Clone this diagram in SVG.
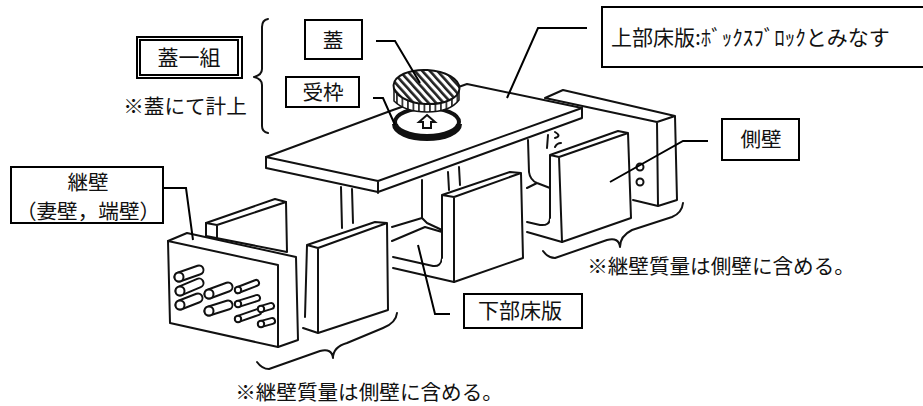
<svg xmlns="http://www.w3.org/2000/svg" width="923" height="406" viewBox="0 0 923 406">
<style>
text{font-family:"Noto Sans CJK JP","Noto Sans CJK SC",sans-serif;font-size:20.6px;fill:#111;text-anchor:middle}
.big{font-size:21px}
.box{fill:#fff;stroke:#000;stroke-width:2}
.s{fill:#fff;stroke:#111;stroke-width:2;stroke-linejoin:round;stroke-linecap:round}
.f{fill:#fff;stroke:none}
.n{fill:none;stroke:#111;stroke-width:2;stroke-linejoin:round;stroke-linecap:round}
.l{fill:none;stroke:#000;stroke-width:2}
.co{stroke:#111;stroke-linecap:round;fill:none}
.ci{stroke:#fff;stroke-linecap:round;fill:none}
.c{fill:#fff;stroke:#111;stroke-width:2}
</style>
<defs>
<pattern id="h" width="5.600" height="6" patternUnits="userSpaceOnUse" patternTransform="rotate(-45)"><rect width="5.600" height="6" fill="#fff"/><rect width="2.600" height="6" fill="#222"/></pattern>
<pattern id="t" width="5.500" height="20" patternUnits="userSpaceOnUse"><rect width="5.500" height="20" fill="#fff"/><rect width="1.800" height="20" fill="#333"/></pattern>
</defs>
<rect width="923" height="406" fill="#fff"/>
<g id="upper-rear-wall">
<path class="f" d="M545 98L563 90L675 116L677 200L658 206L633 200V150Z"/>
<path class="n" d="M545 98L563 90L675 116L677 200L658 206L633 200M545 98L657 122L675 116M657 122L658 206"/>
<circle cx="640" cy="167" r="3.500" class="c"/><circle cx="640" cy="182" r="3.500" class="c"/>
</g>
<g id="body">
<path class="n" d="M341 187L342 228M352 189L353 223M422 180L422 218M448 172L449 190M459 167L460 185M528 140L529 172Q530 180 537 183L550 188M527 188L537 183M548 135L547 148M555 132Q562 136 555 138M555 147Q557 143 561 143"/>
<path class="n" d="M392 227L422 218L427 223L442 230M392 241L425 227L442 232M393 257L433 266Q441 267 442 258M393 268L454 282M527 222L540 225Q550 226 550 218M527 232L562 242"/>
</g>
<g id="upper-slab">
<path class="s" d="M266 157L393 110L467 84L582 108V118L378 192L266 168Z"/>
<path class="n" d="M266 157L378 181L582 108M378 181V193"/>
</g>
<g id="lid-frame">
<ellipse cx="427" cy="122" rx="32" ry="14" fill="#fff" stroke="#111" stroke-width="4"/>
<path d="M395 124A32 14 0 0 0 459 124" fill="none" stroke="#111" stroke-width="6"/>
<path d="M427 115L435 122H431V128H423V122H419Z" fill="#fff" stroke="#111" stroke-width="2"/>
</g>
<g id="lid">
<path d="M394 88V101Q405 112 427 112Q450 112 459 100V88Z" fill="url(#t)" stroke="#111" stroke-width="1.500"/>
<ellipse cx="426.500" cy="87" rx="33" ry="17" transform="rotate(3 426.500 87)" fill="url(#h)" stroke="#111" stroke-width="2"/>
</g>
<g id="rear-end-wall">
<path class="s" d="M206 223L275 199L286 202L287 252L206 236Z"/>
<path class="n" d="M206 223L217 225L286 202M217 225V238"/>
</g>
<g id="side-wall-left">
<path class="f" d="M307 245L375 222L387 223L388 310L318 333L303 328L305 317Z"/>
<path class="n" d="M305 317L307 245L375 222L387 223L388 310L318 333L303 328M307 245L318 248L387 223M318 248V333"/>
</g>
<g id="side-wall-middle">
<path class="f" d="M442 195L510 172L521 173L523 258L454 282L442 262Z"/>
<path class="n" d="M442 258V195L510 172L521 173L523 258L454 282M442 195L454 197L521 173M454 197V282"/>
</g>
<g id="side-wall-right">
<path class="f" d="M550 155L618 131L628 133L631 218L562 242L550 225Z"/>
<path class="n" d="M550 218V155L618 131L628 133L631 218L562 242M550 155L559 157L628 133M559 157L562 242"/>
</g>
<g id="end-wall">
<path class="s" d="M168 241L187 233L296 257L298 340L278 347L170 323Z"/>
<path class="n" d="M168 241L278 265V347"/>
<path class="co" stroke-width="11" d="M179 277L199 270M180 291L199 283M180 305L198 298M209 294L228 287M209 311L228 305"/>
<path class="ci" stroke-width="7" d="M179 277L199 270M180 291L199 283M180 305L198 298M209 294L228 287M209 311L228 305"/>
<path class="co" stroke-width="8" d="M238 290L256 283M238 304L257 298M238 319L258 312M261 309L271 306M261 324L272 321"/>
<path class="ci" stroke-width="4" d="M238 290L256 283M238 304L257 298M238 319L258 312M261 309L271 306M261 324L272 321"/>
<circle cx="179" cy="277" r="4.500" class="c"/><circle cx="180" cy="291" r="4.500" class="c"/><circle cx="180" cy="305" r="4.500" class="c"/><circle cx="209" cy="294" r="4.500" class="c"/><circle cx="209" cy="311" r="4.500" class="c"/>
<circle cx="238" cy="290" r="3.200" class="c"/><circle cx="238" cy="304" r="3.200" class="c"/><circle cx="238" cy="319" r="3.200" class="c"/><circle cx="261" cy="309" r="3.200" class="c"/><circle cx="261" cy="324" r="3.200" class="c"/>
</g>
<g id="connectors">
<path class="l" d="M163 188H186L193 240"/>
<path class="l" d="M376 41H395L420 83"/>
<path class="l" d="M373 98H383L395 125"/>
<path class="l" d="M507 98L538 28H587"/>
<path class="l" d="M610 182L683 141H708"/>
<path class="l" d="M418 245L435 314H450"/>
</g>
<g id="braces">
<path class="n" d="M268 19Q262 20 262 27V69Q262 75 254 77Q262 79 262 85V126Q262 132 268 133"/>
<path class="n" d="M257 362Q262 369 269 369L320 351Q332 348 333 358Q333 347 347 343L383 328Q396 323 397 313"/>
<path class="n" d="M543 251Q548 258 555 258L607 240Q619 237 620 247Q620 236 632 230L672 217Q682 213 683 203"/>
</g>
<g id="cover-set"><rect class="box" x="137" y="37" width="105" height="41"/><rect class="box" x="140" y="40" width="98" height="35"/><text class="big" x="189" y="65">蓋一組</text></g>
<text x="185" y="114">※蓋にて計上</text>
<g id="cover-label"><rect class="box" x="305" y="20" width="57" height="39"/><text x="333" y="48">蓋</text></g>
<g id="frame-label"><rect class="box" x="286" y="77" width="73" height="30"/><text x="323" y="100">受枠</text></g>
<g id="upper-slab-label"><rect class="box" x="602" y="7" width="330" height="60"/><text class="big" x="611" y="45" style="text-anchor:start">上部床版:ﾎﾞｯｸｽﾌﾞﾛｯｸとみなす</text></g>
<g id="side-wall-label"><rect class="box" x="722" y="119" width="77" height="41"/><text x="761" y="147">側壁</text></g>
<g id="end-wall-label"><rect class="box" x="11" y="167" width="152" height="56"/><text x="88" y="190">継壁</text><text x="88" y="219">（妻壁，端壁）</text></g>
<g id="lower-slab-label"><rect class="box" x="464" y="294" width="118" height="34"/><text class="big" x="520" y="318">下部床版</text></g>
<text x="369" y="400">※継壁質量は側壁に含める。</text>
<text x="721" y="274">※継壁質量は側壁に含める。</text>
</svg>
